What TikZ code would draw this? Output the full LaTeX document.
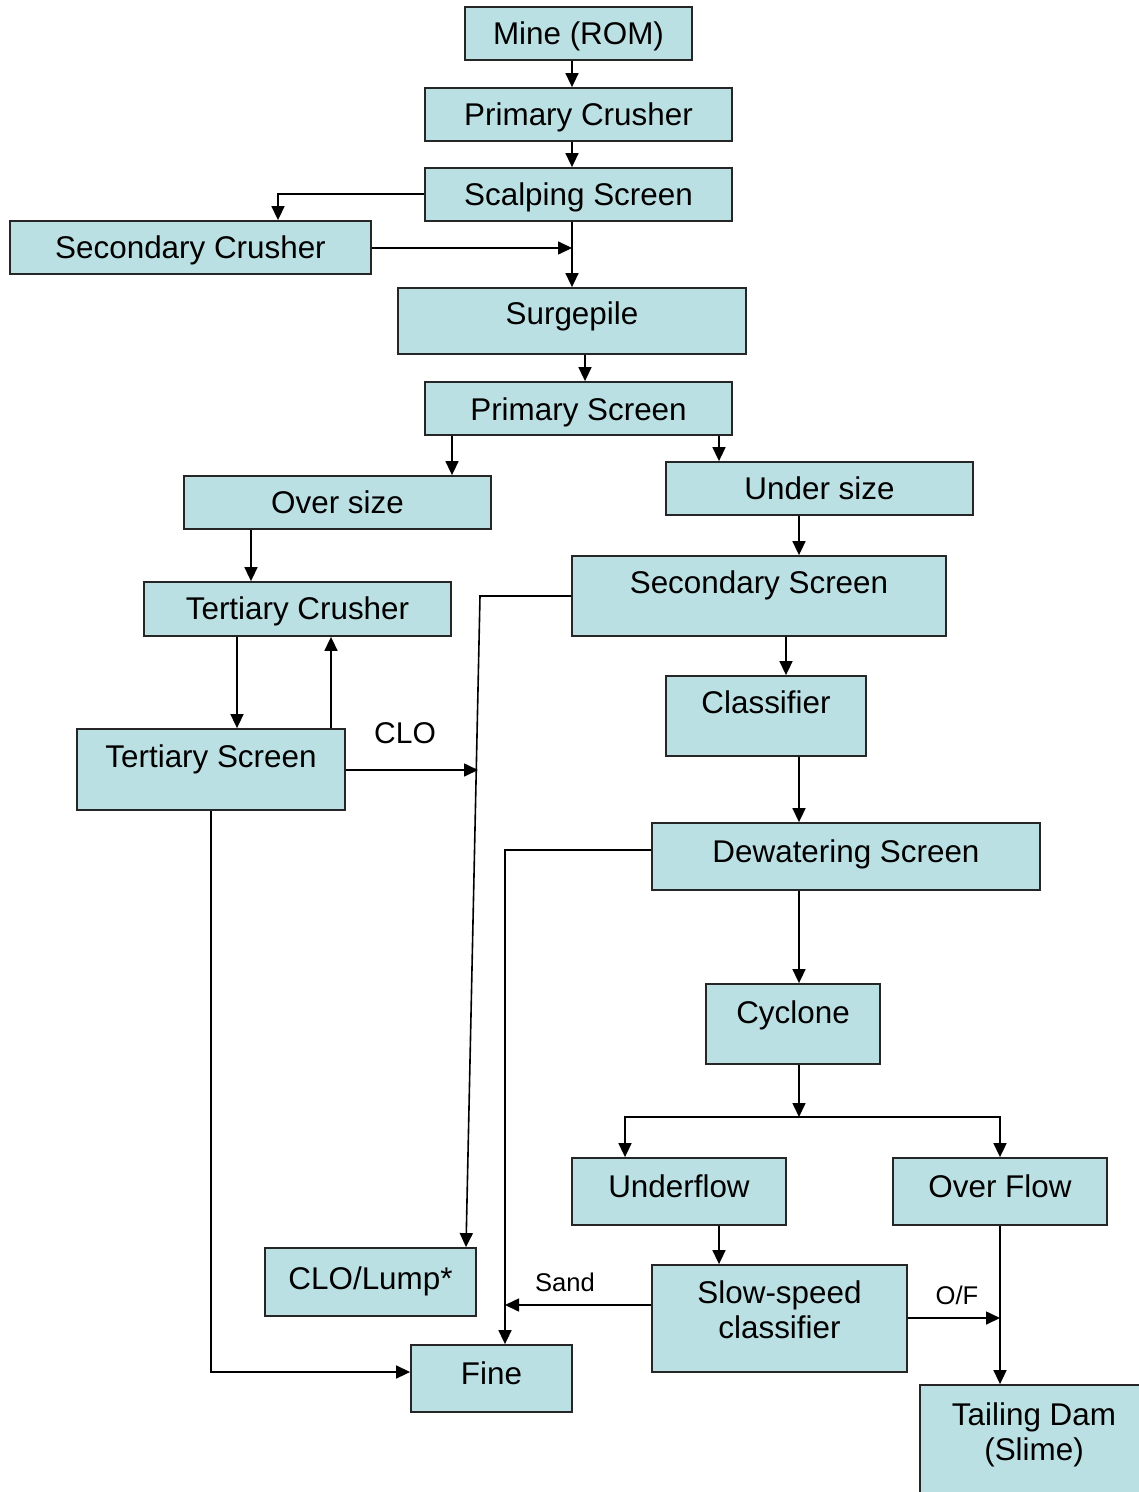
\documentclass[tikz,border=0pt]{standalone}
\usepackage{fontspec}
\setmainfont{Liberation Sans}
\usetikzlibrary{arrows.meta,fit}
\definecolor{boxfill}{RGB}{187,224,227}
\begin{document}
\begin{tikzpicture}[x=0.5pt,y=-0.5pt,
  box/.style={draw=black!85, line width=0.9pt, fill=boxfill, inner sep=0pt},
  lbl/.style={anchor=base, font=\fontsize{15.7}{17.5}\selectfont, inner sep=0pt, align=center},
  lbl2/.style={anchor=center, font=\fontsize{15.7}{17.5}\selectfont, inner sep=0pt, align=center},
  small/.style={anchor=base, font=\fontsize{12.8}{15}\selectfont, inner sep=0pt},
  arr/.style={line width=0.8pt, -{Triangle[length=7pt,width=6.5pt]}},
  ln/.style={line width=0.8pt}]
\useasboundingbox (0,0) rectangle (1139,1492);
% boxes
\node[box, fit={(465,7) (692,60)}] (mine) {};
\node[box, fit={(425,88) (732,141)}] (pc) {};
\node[box, fit={(425,168) (732,221)}] (scs) {};
\node[box, fit={(10,221) (371,274)}] (sec) {};
\node[box, fit={(398,288) (746,354)}] (surge) {};
\node[box, fit={(425,382) (732,435)}] (ps) {};
\node[box, fit={(184,476) (491,529)}] (over) {};
\node[box, fit={(666,462) (973,515)}] (under) {};
\node[box, fit={(572,556) (946,636)}] (ss) {};
\node[box, fit={(144,582) (451,636)}] (tc) {};
\node[box, fit={(77,729) (345,810)}] (ts) {};
\node[box, fit={(666,676) (866,756)}] (cls) {};
\node[box, fit={(652,823) (1040,890)}] (dw) {};
\node[box, fit={(706,984) (880,1064)}] (cyc) {};
\node[box, fit={(572,1158) (786,1225)}] (uf) {};
\node[box, fit={(893,1158) (1107,1225)}] (of) {};
\node[box, fit={(265,1248) (476,1316)}] (clo) {};
\node[box, fit={(652,1265) (907,1372)}] (slow) {};
\node[box, fit={(411,1345) (572,1412)}] (fine) {};
\node[box, fit={(920,1385) (1142,1496)}] (td) {};
% texts
\node[lbl] (tmine) at (mine |- 0,45) {Mine (ROM)};
\node[lbl] (tpc) at (pc |- 0,126) {Primary Crusher};
\node[lbl] (tscs) at (scs |- 0,206) {Scalping Screen};
\node[lbl] (tsec) at (sec |- 0,259) {Secondary Crusher};
\node[lbl] (tsurge) at (surge |- 0,325) {Surgepile};
\node[lbl] (tps) at (ps |- 0,420) {Primary Screen};
\node[lbl] (tover) at (over |- 0,513) {Over size};
\node[lbl] (tunder) at (under |- 0,499) {Under size};
\node[lbl] (tss) at (ss |- 0,593) {Secondary Screen};
\node[lbl] (ttc) at (tc |- 0,619) {Tertiary Crusher};
\node[lbl] (tts) at (ts |- 0,767) {Tertiary Screen};
\node[lbl] (tcls) at (cls |- 0,713) {Classifier};
\node[lbl] (tdw) at (dw |- 0,862) {Dewatering Screen};
\node[lbl] (tcyc) at (cyc |- 0,1023) {Cyclone};
\node[lbl] (tuf) at (uf |- 0,1197) {Underflow};
\node[lbl] (tof) at (of |- 0,1197) {Over Flow};
\node[lbl] (tclo) at (clo |- 0,1289) {CLO/Lump*};
\node[lbl2] (tslow) at (slow |- 0,1310) {Slow-speed\\classifier};
\node[lbl] (tfine) at (fine |- 0,1384) {Fine};
\node[lbl2] (ttd) at (1034,1434.5) {Tailing Dam\\(Slime)};
% labels
\node[anchor=base, font=\fontsize{15}{17}\selectfont, inner sep=0pt] (lclo) at (405,743) {CLO};
\node[small] (lsand) at (565,1291) {Sand};
\node[small] (lof) at (957,1304) {O/F};
% junction coordinates
\coordinate (j1) at (572,248);
\coordinate (jclo) at (478,770);
\coordinate (jbend) at (480,596);
\coordinate (split) at (799,1117);
\coordinate (jsand) at (505,1305);
\coordinate (jof) at (1000,1318);
% connectors
\draw[arr] (mine.south -| 572,0) -- (pc.north -| 572,0);
\draw[arr] (pc.south -| 572,0) -- (scs.north -| 572,0);
\draw[arr] (scs.west |- 0,194) -| (sec.north -| 278,0);
\draw[arr] (scs.south -| 572,0) -- (surge.north -| 572,0);
\draw[arr] (sec.east |- 0,248) -- (j1);
\draw[arr] (surge.south -| 585,0) -- (ps.north -| 585,0);
\draw[arr] (ps.south -| 452,0) -- (over.north -| 452,0);
\draw[arr] (ps.south -| 719,0) -- (under.north -| 719,0);
\draw[arr] (over.south -| 251,0) -- (tc.north -| 251,0);
\draw[arr] (under.south -| 799,0) -- (ss.north -| 799,0);
\draw[arr] (tc.south -| 237,0) -- (ts.north -| 237,0);
\draw[arr] (ts.north -| 331,0) -- (tc.south -| 331,0);
\draw[arr] (ts.east |- 0,770) -- (jclo);
\draw[arr] (ss.west |- 0,596) -- (jbend) -- (clo.north -| 466,0);
\draw[arr] (ss.south -| 786,0) -- (cls.north -| 786,0);
\draw[arr] (cls.south -| 799,0) -- (dw.north -| 799,0);
\draw[arr] (dw.west |- 0,850) -| (fine.north -| 505,0);
\draw[arr] (dw.south -| 799,0) -- (cyc.north -| 799,0);
\draw[arr] (cyc.south -| 799,0) -- (split);
\draw[arr] (split) -| (uf.north -| 625,0);
\draw[arr] (split) -| (of.north -| 1000,0);
\draw[arr] (uf.south -| 719,0) -- (slow.north -| 719,0);
\draw[arr] (slow.west |- 0,1305) -- (jsand);
\draw[arr] (slow.east |- 0,1318) -- (jof);
\draw[arr] (of.south -| 1000,0) -- (td.north -| 1000,0);
\draw[arr] (ts.south -| 211,0) |- (fine.west |- 0,1372);
\end{tikzpicture}
\end{document}
